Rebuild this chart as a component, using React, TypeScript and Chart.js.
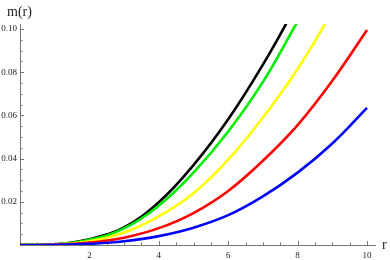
import React, { useEffect, useRef } from 'react';
import { Chart, registerables } from 'chart.js';

Chart.register(...registerables);

// r values and m(r) series
const rValues = [0, 1, 2, 3, 4, 5, 6, 7, 8, 9, 10];
const blackM = [0, 0.0003, 0.0027, 0.0082, 0.0198, 0.037, 0.0582, 0.0835, 0.112];
const greenM = [0, 0.0002, 0.0024, 0.0077, 0.0182, 0.0335, 0.0525, 0.0755, 0.1035];
const yellowM = [0, 0.0002, 0.0017, 0.0058, 0.0133, 0.024, 0.0395, 0.059, 0.0815, 0.108];
const redM = [0, 0.0001, 0.0011, 0.0034, 0.0078, 0.0148, 0.025, 0.039, 0.0555, 0.076, 0.0995];
const blueM = [0, 0.00005, 0.0005, 0.0017, 0.0041, 0.008, 0.0138, 0.0225, 0.0335, 0.047, 0.0635];

const xTickValues = [2, 4, 6, 8, 10];
const yTickValues = [0.02, 0.04, 0.06, 0.08, 0.1];
const xMinorStep = 0.5;
const yMinorStep = 0.005;

const axisColor = '#777777';
const labelColor = '#222222';
const fontFamily = '"Liberation Serif", "DejaVu Serif", serif';

const toPoints = (ys: number[]) => ys.map((y, i) => ({ x: rValues[i], y }));

const axisDecor = {
  id: 'axisDecor',
  beforeDatasetsDraw(chart: any) {
    const { ctx, chartArea, scales } = chart;
    const x = scales.x;
    const y = scales.y;
    ctx.save();
    ctx.strokeStyle = axisColor;
    ctx.lineWidth = 1;
    ctx.beginPath();
    for (let i = 1; i * xMinorStep <= 10 + 1e-9; i++) {
      const v = i * xMinorStep;
      const major = xTickValues.some((t) => Math.abs(t - v) < 1e-9);
      const px = Math.round(x.getPixelForValue(v)) + 0.5;
      const len = major ? 4 : 2.5;
      ctx.moveTo(px, chartArea.bottom);
      ctx.lineTo(px, chartArea.bottom - len);
    }
    for (let i = 1; i * yMinorStep <= 0.1 + 1e-9; i++) {
      const v = i * yMinorStep;
      const major = yTickValues.some((t) => Math.abs(t - v) < 1e-9);
      const py = Math.round(y.getPixelForValue(v)) + 0.5;
      const len = major ? 4 : 2.5;
      ctx.moveTo(chartArea.left, py);
      ctx.lineTo(chartArea.left + len, py);
    }
    ctx.stroke();
    ctx.restore();
  },
  afterDraw(chart: any) {
    const { ctx, chartArea } = chart;
    ctx.save();
    ctx.fillStyle = labelColor;
    ctx.font = `14px ${fontFamily}`;
    ctx.textBaseline = 'alphabetic';
    ctx.textAlign = 'left';
    ctx.fillText('m(r)', 7, 16);
    ctx.fillText('r', chartArea.right + 7, chartArea.bottom + 4);
    ctx.restore();
  },
};

export default function App() {
  const canvasRef = useRef<HTMLCanvasElement | null>(null);

  useEffect(() => {
    if (!canvasRef.current) return;
    const mk = (data: number[], color: string) => ({
      data: toPoints(data),
      borderColor: color,
      backgroundColor: color,
      borderWidth: 2.6,
      pointRadius: 0,
      fill: false,
      tension: 0.4,
    });
    const chart = new Chart(canvasRef.current, {
      type: 'line',
      data: {
        datasets: [
          mk(blueM, '#0000ff'),
          mk(redM, '#ff0000'),
          mk(yellowM, '#ffff00'),
          mk(greenM, '#00ee00'),
          mk(blackM, '#000000'),
        ],
      },
      options: {
        animation: false,
        responsive: false,
        devicePixelRatio: 1,
        layout: { padding: { top: 24, right: 15, left: 0, bottom: 0 } },
        plugins: { legend: { display: false }, tooltip: { enabled: false } },
        scales: {
          x: {
            type: 'linear',
            min: 0,
            max: 10.23,
            grid: { display: false, drawTicks: false },
            border: { display: true, color: axisColor, width: 1 },
            afterBuildTicks: (s: any) => {
              s.ticks = xTickValues.map((v) => ({ value: v }));
            },
            afterFit: (s: any) => {
              s.height = 15;
            },
            ticks: {
              color: labelColor,
              font: { family: fontFamily, size: 9 },
              padding: 5,
              maxRotation: 0,
              autoSkip: false,
              callback: (v: any) => String(v),
            },
          },
          y: {
            type: 'linear',
            min: 0,
            max: 0.1023,
            grid: { display: false, drawTicks: false },
            border: { display: true, color: axisColor, width: 1 },
            afterBuildTicks: (s: any) => {
              s.ticks = yTickValues.map((v) => ({ value: v }));
            },
            afterFit: (s: any) => {
              s.width = 20;
            },
            ticks: {
              color: labelColor,
              font: { family: fontFamily, size: 9 },
              padding: 3,
              autoSkip: false,
              callback: (v: any) => Number(v).toFixed(2),
            },
          },
        },
      },
      plugins: [axisDecor],
    });
    return () => chart.destroy();
  }, []);

  return (
    <div style={{ position: 'absolute', left: 0, top: 0, width: 390, height: 260, background: '#fff' }}>
      <canvas ref={canvasRef} width={390} height={260} style={{ width: 390, height: 260 }} />
    </div>
  );
}
